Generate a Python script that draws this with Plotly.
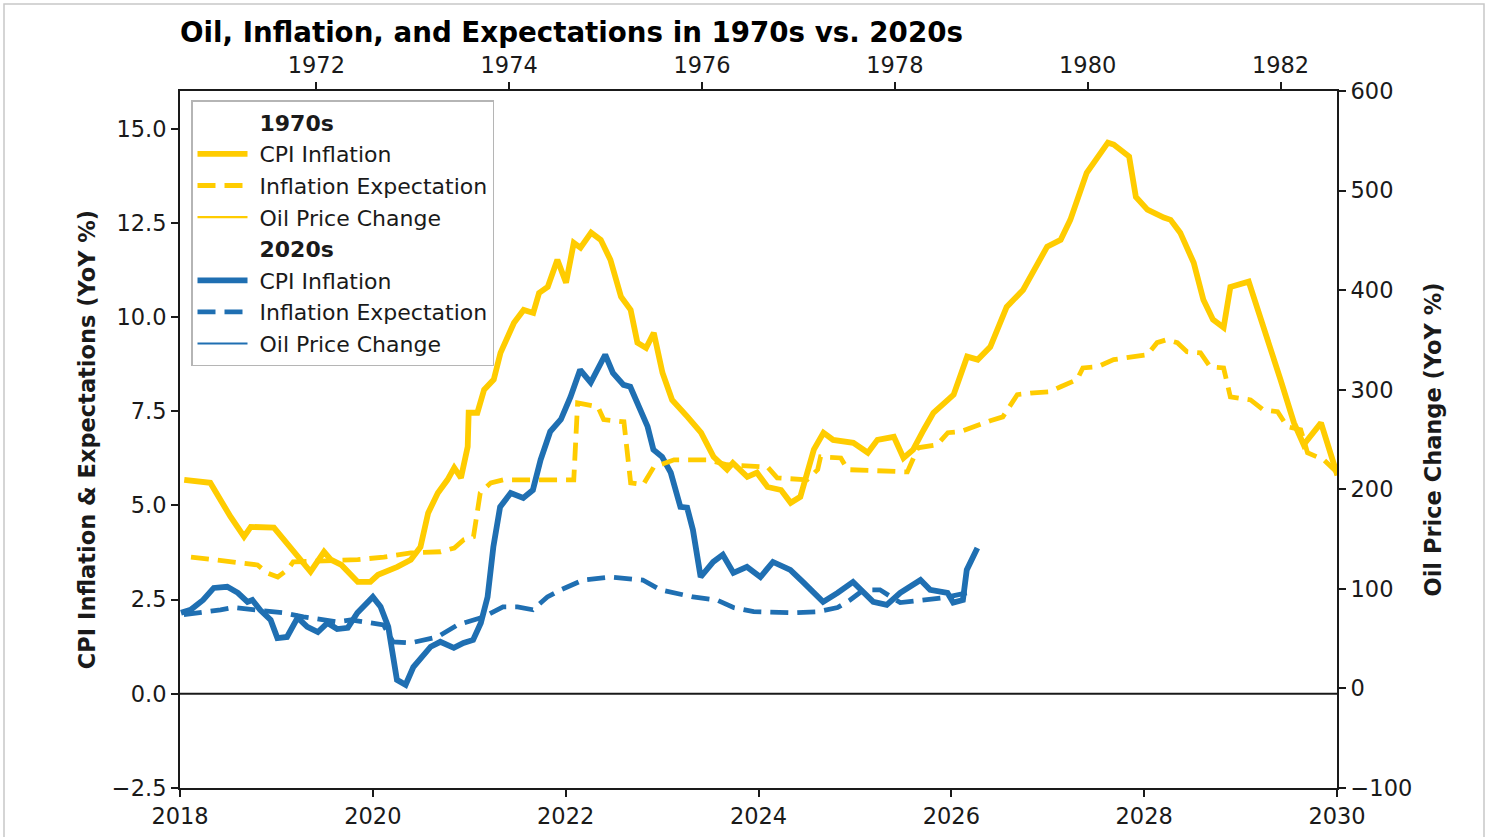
import plotly.graph_objects as go

# ---------------- data ----------------
# 1970s series, plotted against the top (1970s) time axis, decimal years
cpi70_t = [1970.63, 1970.90, 1971.11, 1971.25, 1971.32, 1971.56, 1971.94, 1972.08, 1972.15, 1972.26,
           1972.43, 1972.56, 1972.64, 1972.84, 1972.98, 1973.08, 1973.16, 1973.26, 1973.36, 1973.43,
           1973.50, 1973.57, 1973.58, 1973.67, 1973.74, 1973.84, 1973.91, 1974.05, 1974.15, 1974.25,
           1974.31, 1974.40, 1974.50, 1974.59, 1974.67, 1974.74, 1974.85, 1974.95, 1975.05, 1975.16,
           1975.26, 1975.33, 1975.42, 1975.50, 1975.59, 1975.69, 1975.85, 1975.99, 1976.12, 1976.26,
           1976.32, 1976.47, 1976.57, 1976.68, 1976.82, 1976.92, 1977.02, 1977.09, 1977.16, 1977.26,
           1977.36, 1977.57, 1977.72, 1977.82, 1977.99, 1978.09, 1978.19, 1978.30, 1978.40, 1978.55,
           1978.61, 1978.75, 1978.86, 1978.99, 1979.16, 1979.33, 1979.58, 1979.72, 1979.82, 1979.99,
           1980.21, 1980.27, 1980.43, 1980.50, 1980.62, 1980.79, 1980.86, 1980.96, 1981.10, 1981.20,
           1981.30, 1981.41, 1981.48, 1981.67, 1981.86, 1982.00, 1982.14, 1982.24, 1982.42, 1982.59]
cpi70_v = [5.68, 5.60, 4.70, 4.17, 4.43, 4.41, 3.24, 3.77, 3.56, 3.42,
           2.97, 2.97, 3.16, 3.37, 3.56, 3.90, 4.80, 5.33, 5.68, 6.00,
           5.73, 6.56, 7.46, 7.46, 8.07, 8.34, 9.05, 9.85, 10.19, 10.11,
           10.64, 10.80, 11.52, 10.91, 11.97, 11.84, 12.24, 12.05, 11.52, 10.54,
           10.19, 9.32, 9.18, 9.58, 8.52, 7.80, 7.35, 6.93, 6.29, 5.95,
           6.13, 5.76, 5.87, 5.49, 5.41, 5.07, 5.23, 5.87, 6.48, 6.93,
           6.74, 6.66, 6.40, 6.74, 6.82, 6.26, 6.48, 7.01, 7.46, 7.80,
           7.94, 8.95, 8.87, 9.21, 10.27, 10.72, 11.87, 12.05, 12.58, 13.83,
           14.63, 14.58, 14.26, 13.19, 12.85, 12.64, 12.58, 12.24, 11.44, 10.46,
           9.93, 9.72, 10.80, 10.94, 9.48, 8.34, 7.19, 6.61, 7.19, 5.80]

exp70_t = [1970.70, 1971.18, 1971.39, 1971.49, 1971.60, 1971.70, 1971.76, 1972.43, 1972.70, 1972.98,
           1973.29, 1973.43, 1973.53, 1973.63, 1973.70, 1973.81, 1973.94, 1974.67, 1974.71, 1974.92,
           1974.98, 1975.19, 1975.23, 1975.26, 1975.39, 1975.50, 1975.71, 1976.06, 1976.26, 1976.68,
           1976.78, 1977.09, 1977.20, 1977.23, 1977.44, 1977.51, 1978.13, 1978.24, 1978.44, 1978.55,
           1978.68, 1978.86, 1978.99, 1979.12, 1979.20, 1979.27, 1979.44, 1979.61, 1979.72, 1979.89,
           1979.95, 1980.10, 1980.27, 1980.47, 1980.62, 1980.72, 1980.82, 1980.93, 1981.03, 1981.17,
           1981.27, 1981.41, 1981.48, 1981.69, 1981.82, 1981.97, 1982.07, 1982.21, 1982.28, 1982.45,
           1982.59]
exp70_v = [3.63, 3.50, 3.42, 3.21, 3.10, 3.29, 3.50, 3.56, 3.63, 3.74,
           3.77, 3.87, 4.09, 4.17, 5.33, 5.60, 5.68, 5.68, 7.72, 7.62,
           7.28, 7.22, 6.40, 5.60, 5.55, 6.02, 6.21, 6.21, 6.08, 6.02,
           5.73, 5.68, 5.95, 6.29, 6.26, 5.95, 5.89, 6.53, 6.61, 6.93,
           6.96, 7.14, 7.25, 7.35, 7.67, 7.94, 7.99, 8.02, 8.15, 8.34,
           8.65, 8.68, 8.87, 8.95, 9.00, 9.32, 9.40, 9.32, 9.08, 9.05,
           8.68, 8.65, 7.88, 7.80, 7.54, 7.49, 7.09, 7.01, 6.40, 6.21,
           5.87]

oil70_t = [None]   # no oil-price line is visible in the reference (legend entry only)
oil70_v = [None]

# 2020s series, plotted against the bottom (2020s) time axis
cpi20_t = [2018.01, 2018.11, 2018.24, 2018.35, 2018.49, 2018.60, 2018.70, 2018.75, 2018.83, 2018.94,
           2019.01, 2019.11, 2019.22, 2019.32, 2019.43, 2019.53, 2019.63, 2019.74, 2019.84, 2020.00,
           2020.08, 2020.16, 2020.25, 2020.34, 2020.42, 2020.60, 2020.70, 2020.84, 2020.94, 2021.04,
           2021.12, 2021.19, 2021.25, 2021.32, 2021.43, 2021.56, 2021.66, 2021.74, 2021.84, 2021.95,
           2022.05, 2022.15, 2022.26, 2022.41, 2022.49, 2022.60, 2022.67, 2022.74, 2022.85, 2022.91,
           2023.00, 2023.09, 2023.19, 2023.26, 2023.32, 2023.40, 2023.53, 2023.63, 2023.74, 2023.88,
           2024.02, 2024.15, 2024.33, 2024.46, 2024.67, 2024.82, 2024.98, 2025.19, 2025.33, 2025.47,
           2025.68, 2025.78, 2025.96, 2026.02, 2026.12, 2026.16, 2026.27]
cpi20_v = [2.15, 2.23, 2.49, 2.81, 2.84, 2.68, 2.44, 2.49, 2.23, 1.96,
           1.48, 1.51, 2.02, 1.78, 1.64, 1.88, 1.72, 1.75, 2.15, 2.57,
           2.31, 1.78, 0.37, 0.24, 0.71, 1.25, 1.38, 1.22, 1.35, 1.43,
           1.88, 2.57, 3.90, 4.96, 5.33, 5.20, 5.41, 6.21, 6.96, 7.28,
           7.88, 8.60, 8.26, 9.00, 8.52, 8.20, 8.15, 7.72, 7.09, 6.48,
           6.29, 5.87, 4.96, 4.94, 4.35, 3.10, 3.50, 3.69, 3.21, 3.37,
           3.10, 3.50, 3.29, 2.97, 2.44, 2.68, 2.97, 2.44, 2.36, 2.68,
           3.02, 2.76, 2.68, 2.42, 2.49, 3.29, 3.87]

exp20_t = [2018.04, 2018.21, 2018.42, 2018.55, 2018.80, 2019.07, 2019.28, 2019.63, 2019.77, 2019.90,
           2020.11, 2020.21, 2020.39, 2020.67, 2020.88, 2021.15, 2021.35, 2021.50, 2021.66, 2021.81,
           2021.95, 2022.18, 2022.46, 2022.80, 2022.98, 2023.32, 2023.57, 2023.74, 2023.95, 2024.36,
           2024.61, 2024.82, 2024.95, 2025.09, 2025.26, 2025.47, 2025.75, 2025.92, 2026.16]
exp20_v = [2.10, 2.15, 2.23, 2.29, 2.23, 2.15, 2.04, 1.91, 1.96, 1.91,
           1.83, 1.38, 1.35, 1.51, 1.83, 2.04, 2.31, 2.31, 2.23, 2.57,
           2.76, 3.02, 3.10, 3.02, 2.76, 2.57, 2.49, 2.29, 2.18, 2.15,
           2.18, 2.29, 2.49, 2.76, 2.76, 2.42, 2.49, 2.55, 2.68]

oil20_t = [None]   # no oil-price line is visible in the reference (legend entry only)
oil20_v = [None]

# axis ticks
bottom_ticks = [2018, 2020, 2022, 2024, 2026, 2028, 2030]
top_ticks = [1972, 1974, 1976, 1978, 1980, 1982]
left_ticks = [-2.5, 0.0, 2.5, 5.0, 7.5, 10.0, 12.5, 15.0]
right_ticks = [-100, 0, 100, 200, 300, 400, 500, 600]

TITLE = "Oil, Inflation, and Expectations in 1970s vs. 2020s"
YLABEL_L = "CPI Inflation & Expectations (YoY %)"
YLABEL_R = "Oil Price Change (YoY %)"

# ---------------- styling ----------------
YELLOW = "#FFCC00"
BLUE = "#1F6FB2"
INK = "#1a1a1a"
FONT = "DejaVu Sans"
FS = 22.5
FS_LEG = 22
W_CPI, W_EXP, W_OIL = 5.8, 4.8, 2.2
DASH = "18px,9px"
PAD = "\u00a0"   # small gap between legend symbol and its label

fig = go.Figure()


def header(name, grp):
    fig.add_trace(go.Scatter(x=[None], y=[None], mode="lines", name=f"{PAD}<b>{name}</b>",
                             line=dict(color="rgba(0,0,0,0)", width=1),
                             legendgroup=grp, hoverinfo="skip"))


header("1970s", "h70")
fig.add_trace(go.Scatter(x=cpi70_t, y=cpi70_v, xaxis="x2", yaxis="y", mode="lines",
                         name=PAD + "CPI Inflation", legendgroup="c70",
                         line=dict(color=YELLOW, width=W_CPI)))
fig.add_trace(go.Scatter(x=exp70_t, y=exp70_v, xaxis="x2", yaxis="y", mode="lines",
                         name=PAD + "Inflation Expectation", legendgroup="e70",
                         line=dict(color=YELLOW, width=W_EXP, dash=DASH)))
fig.add_trace(go.Scatter(x=oil70_t, y=oil70_v, xaxis="x2", yaxis="y2", mode="lines",
                         name=PAD + "Oil Price Change", legendgroup="o70",
                         line=dict(color=YELLOW, width=W_OIL)))
header("2020s", "h20")
fig.add_trace(go.Scatter(x=cpi20_t, y=cpi20_v, xaxis="x", yaxis="y", mode="lines",
                         name=PAD + "CPI Inflation", legendgroup="c20",
                         line=dict(color=BLUE, width=W_CPI)))
fig.add_trace(go.Scatter(x=exp20_t, y=exp20_v, xaxis="x", yaxis="y", mode="lines",
                         name=PAD + "Inflation Expectation", legendgroup="e20",
                         line=dict(color=BLUE, width=W_EXP, dash=DASH)))
fig.add_trace(go.Scatter(x=oil20_t, y=oil20_v, xaxis="x", yaxis="y2", mode="lines",
                         name=PAD + "Oil Price Change", legendgroup="o20",
                         line=dict(color=BLUE, width=W_OIL)))

tickfont = dict(family=FONT, size=FS, color=INK)
axis_common = dict(showgrid=False, zeroline=False, showline=True, linecolor=INK, linewidth=2,
                   ticks="outside", ticklen=7, tickwidth=2, tickcolor=INK,
                   tickfont=tickfont, automargin=False)

fig.update_layout(
    template="none",
    width=1491, height=837,
    margin=dict(l=180, r=154, t=91, b=49),
    paper_bgcolor="white", plot_bgcolor="white",
    font=dict(family=FONT, size=FS, color=INK),
    title=dict(text=TITLE, x=180 / 1491, xanchor="left", xref="container",
               y=1 - 32 / 837, yanchor="middle", yref="container",
               font=dict(family=FONT, size=27.7, color="#000", weight="bold")),
    xaxis=dict(range=[2018, 2030], tickvals=bottom_ticks,
               ticktext=[str(t) for t in bottom_ticks], side="bottom", anchor="y", **axis_common),
    xaxis2=dict(range=[1970.586, 1982.586], tickvals=top_ticks,
                ticktext=[str(t) for t in top_ticks], side="top", overlaying="x", anchor="y",
                **axis_common),
    yaxis=dict(range=[-2.5, 16.0], tickvals=left_ticks, tickformat=".1f", side="left", anchor="x",
               title=dict(text=YLABEL_L, standoff=10,
                          font=dict(family=FONT, size=FS, color=INK, weight="bold")),
               **axis_common),
    yaxis2=dict(range=[-100, 600], tickvals=right_ticks, side="right", overlaying="y", anchor="x",
                title=dict(text=YLABEL_R, standoff=14,
                           font=dict(family=FONT, size=FS, color=INK, weight="bold")),
                **axis_common),
    showlegend=True,
    legend=dict(x=(191 - 180) / 1157, y=1 - (100 - 91) / 697, xanchor="left", yanchor="top",
                bgcolor="white", bordercolor="#b5b5b5", borderwidth=1.5,
                font=dict(family=FONT, size=FS_LEG, color=INK),
                itemwidth=50, tracegroupgap=3.9, traceorder="normal"),
)

# zero reference line on the left axis
fig.add_shape(type="line", xref="paper", x0=0, x1=1, yref="y", y0=0, y1=0,
              line=dict(color=INK, width=2), layer="above")

# thin grey frame around the whole picture
fig.add_shape(type="rect", xref="paper", yref="paper",
              x0=(4 - 180) / 1157, x1=(1484 - 180) / 1157,
              y0=-(845 - 788) / 697, y1=1 + (91 - 4) / 697,
              line=dict(color="#c8c8c8", width=1.5), fillcolor="rgba(0,0,0,0)", layer="below")

fig.write_html("out.html", config={"displayModeBar": False},
               post_script="document.body.style.margin='0';document.body.style.overflow='hidden';")
